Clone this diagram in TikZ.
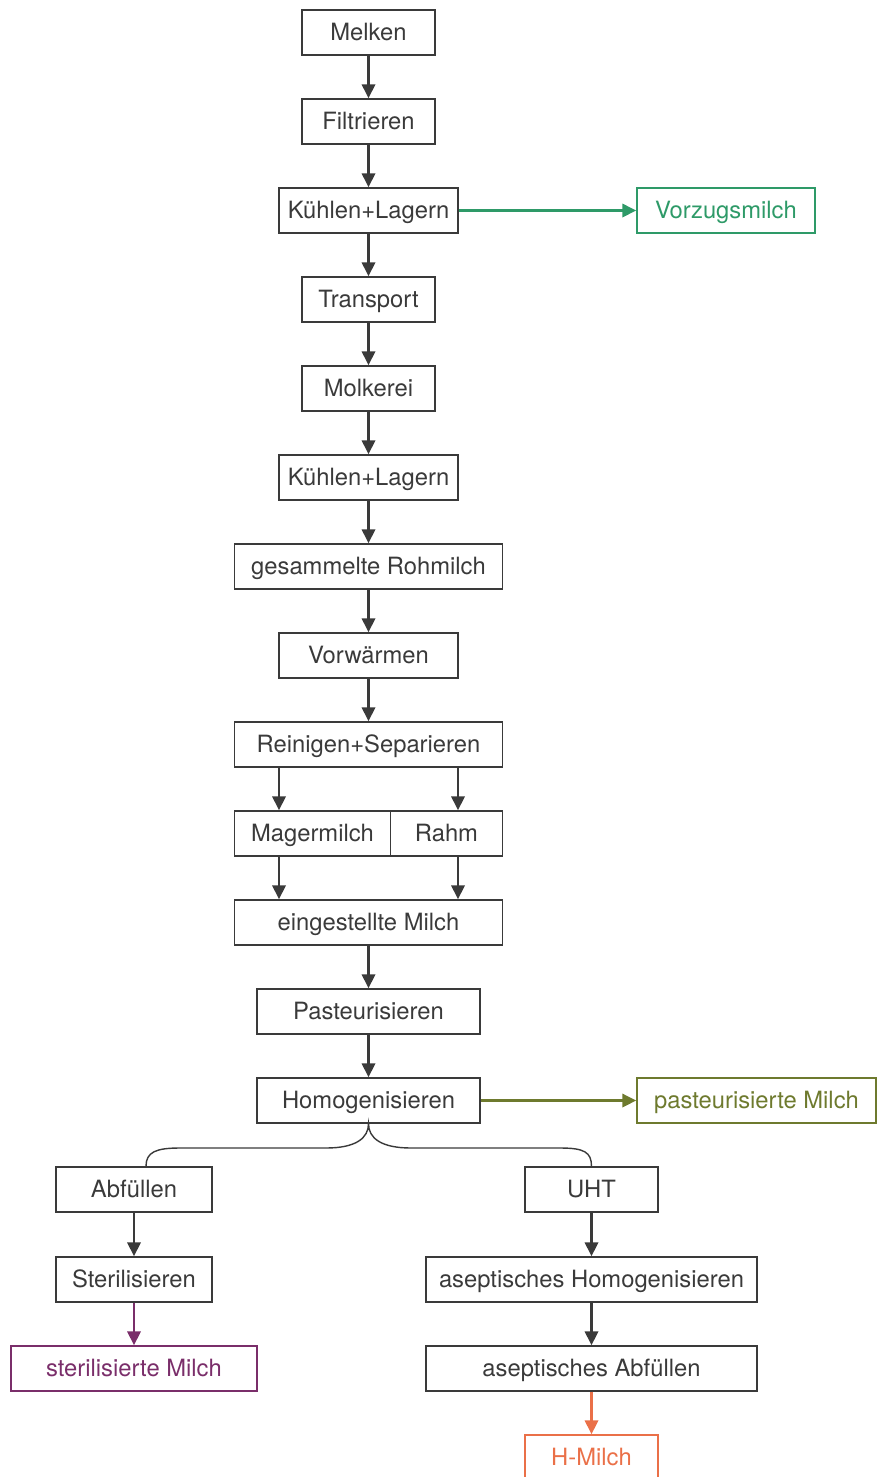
\documentclass[tikz,border=0pt]{standalone}
\usepackage{fontspec}
\setmainfont{TeX Gyre Heros}
\usetikzlibrary{arrows.meta}

\definecolor{linegray}{HTML}{3A3A3A}
\definecolor{vzgreen}{HTML}{2E9A68}
\definecolor{pmolive}{HTML}{6E7A2E}
\definecolor{smpurple}{HTML}{7A2E6A}
\definecolor{hmorange}{HTML}{EA7048}

\begin{document}
\begin{tikzpicture}[x=0.03cm, y=-0.03cm,
  box/.style={draw=linegray, line width=1.2pt, text=linegray, minimum height=1.35cm,
    inner sep=0pt, text height=0.6cm, text depth=0.12cm,
    font=\fontsize{20.3}{24}\selectfont},
  flow/.style={draw=linegray, line width=2pt, -{Triangle[length=0.42cm, width=0.4cm]}}]

  % Page frame
  \useasboundingbox (0,0) rectangle (877,1477);
  \clip (0,0) rectangle (877,1477);

  % Main chain
  \node[box, minimum width=3.99cm] (melken) at (368.5,32.5) {Melken};
  \node[box, minimum width=3.99cm] (filtrieren) at (368.5,121.5) {Filtrieren};
  \node[box, minimum width=5.37cm] (kuehlen1) at (368.5,210.5) {Kühlen+Lagern};
  \node[box, minimum width=3.99cm] (transport) at (368.5,299.5) {Transport};
  \node[box, minimum width=3.99cm] (molkerei) at (368.5,388.5) {Molkerei};
  \node[box, minimum width=5.37cm] (kuehlen2) at (368.5,477.5) {Kühlen+Lagern};
  \node[box, minimum width=8.04cm] (rohmilch) at (368.5,566.5) {gesammelte Rohmilch};
  \node[box, minimum width=5.37cm] (vorwaermen) at (368.5,655.5) {Vorwärmen};
  \node[box, minimum width=8.04cm] (reinigen) at (368.5,744.5) {Reinigen+Separieren};
  \node[box, minimum width=4.68cm] (mager) at (312.5,833.5) {Magermilch};
  \node[box, minimum width=3.36cm] (rahm) at (446.5,833.5) {Rahm};
  \node[box, minimum width=8.04cm] (eingestellt) at (368.5,922.5) {eingestellte Milch};
  \node[box, minimum width=6.69cm] (pasteur) at (368.5,1011.5) {Pasteurisieren};
  \node[box, minimum width=6.69cm] (homogen) at (368.5,1100.5) {Homogenisieren};

  % Products
  \node[box, draw=vzgreen, text=vzgreen, minimum width=5.34cm] (vorzug) at (726,210.5) {Vorzugsmilch};
  \node[box, draw=pmolive, text=pmolive, minimum width=7.17cm] (pastmilch) at (756.5,1100.5) {pasteurisierte Milch};

  % Left branch
  \node[box, minimum width=4.68cm] (abfuellen) at (134,1189.5) {Abfüllen};
  \node[box, minimum width=4.68cm] (steril) at (134,1279.5) {Sterilisieren};
  \node[box, draw=smpurple, text=smpurple, minimum width=7.38cm] (sterilmilch) at (134,1368.5) {sterilisierte Milch};

  % Right branch
  \node[box, minimum width=3.99cm] (uht) at (591.5,1189.5) {UHT};
  \node[box, minimum width=9.93cm] (asepthomo) at (591.5,1279.5) {aseptisches Homogenisieren};
  \node[box, minimum width=9.93cm] (asepabf) at (591.5,1368.5) {aseptisches Abfüllen};
  \node[box, draw=hmorange, text=hmorange, minimum width=3.99cm] (hmilch) at (591.5,1457.5) {H-Milch};

  % Split columns
  \coordinate (lsplit) at (279,0);
  \coordinate (rsplit) at (458,0);

  % Arrows
  \draw[flow] (melken) -- (filtrieren);
  \draw[flow] (filtrieren) -- (kuehlen1);
  \draw[flow] (kuehlen1) -- (transport);
  \draw[flow] (transport) -- (molkerei);
  \draw[flow] (molkerei) -- (kuehlen2);
  \draw[flow] (kuehlen2) -- (rohmilch);
  \draw[flow] (rohmilch) -- (vorwaermen);
  \draw[flow] (vorwaermen) -- (reinigen);
  \draw[flow] (reinigen.south -| lsplit) -- (mager.north -| lsplit);
  \draw[flow] (reinigen.south -| rsplit) -- (rahm.north -| rsplit);
  \draw[flow] (mager.south -| lsplit) -- (eingestellt.north -| lsplit);
  \draw[flow] (rahm.south -| rsplit) -- (eingestellt.north -| rsplit);
  \draw[flow] (eingestellt) -- (pasteur);
  \draw[flow] (pasteur) -- (homogen);
  \draw[flow, draw=vzgreen] (kuehlen1) -- (vorzug);
  \draw[flow, draw=pmolive] (homogen) -- (pastmilch);

  % Brace to both branches
  \draw[draw=linegray, line width=1.2pt] ([xshift=0.36cm]abfuellen.north)
    .. controls (146,1152) and (156,1148) .. (180,1148) -- (326,1148)
    .. controls (356,1148) and (368.5,1138) .. (homogen.south)
    .. controls (368.5,1138) and (381,1148) .. (411,1148) -- (560,1148)
    .. controls (584,1148) and (591.5,1152) .. (uht.north);

  \draw[flow] (abfuellen) -- (steril);
  \draw[flow, draw=smpurple] (steril) -- (sterilmilch);
  \draw[flow] (uht) -- (asepthomo);
  \draw[flow] (asepthomo) -- (asepabf);
  \draw[flow, draw=hmorange] (asepabf) -- (hmilch);

\end{tikzpicture}
\end{document}
